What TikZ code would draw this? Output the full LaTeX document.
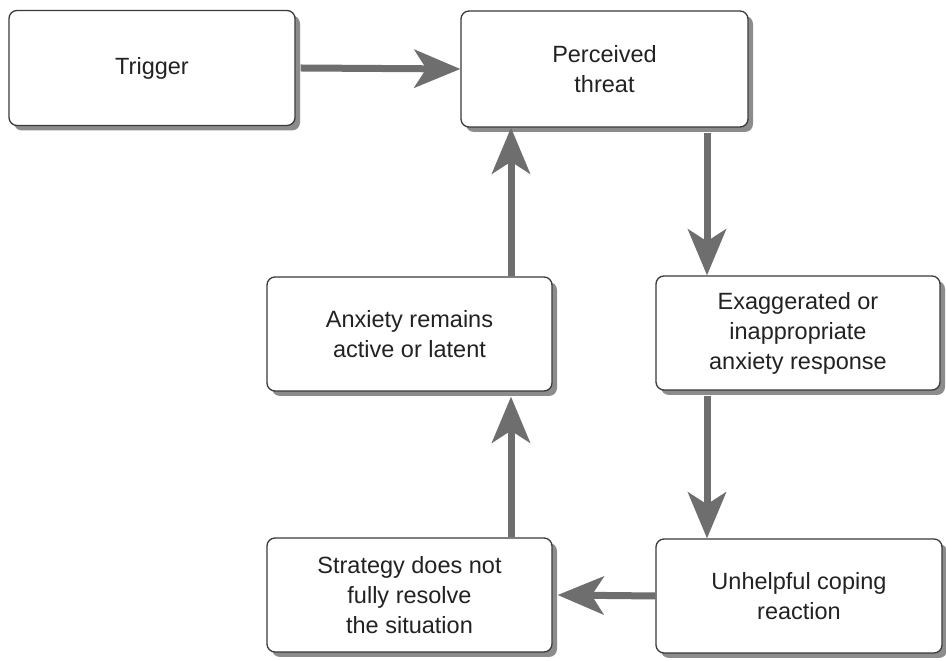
\documentclass[tikz,border=0pt]{standalone}
\usepackage{fontspec}
\setmainfont{Liberation Sans}
\usetikzlibrary{arrows.meta,shadows}
\definecolor{edgegray}{HTML}{6E6E6E}
\definecolor{framegray}{HTML}{3A3A3A}
\definecolor{shadegray}{HTML}{8C8C8C}
\definecolor{inkgray}{HTML}{222222}
\begin{document}
\begin{tikzpicture}[x=1pt,y=1pt,
  stepbox/.style={draw=framegray, line width=1.3pt, fill=white, rounded corners=8pt,
    minimum width=285pt, minimum height=114pt, align=center, text=inkgray,
    font=\fontsize{23.5}{30}\selectfont,
    drop shadow={shadow xshift=5pt, shadow yshift=-5pt, fill=shadegray, opacity=1}},
  flow/.style={draw=edgegray, line width=7pt,
    -{Stealth[length=46pt, width=38pt, inset=12pt, fill=edgegray]}}]
\useasboundingbox (0,0) rectangle (946,661);
\fill[white] (0,0) rectangle (946,661);

% boxes of the cycle
\node[stepbox, minimum width=286pt, minimum height=115pt] (trig) at (152,593) {Trigger};
\node[stepbox, minimum width=287pt, minimum height=116pt] (perc) at (604.5,592) {Perceived\\threat};
\node[stepbox, minimum width=284pt] (exag) at (798,328) {Exaggerated or\\inappropriate\\anxiety response};
\node[stepbox] (anx) at (409.5,327) {Anxiety remains\\active or latent};
\node[stepbox] (strat) at (409.5,66) {Strategy does not\\fully resolve\\the situation};
\node[stepbox, minimum width=286pt] (unh) at (799,65) {Unhelpful coping\\reaction};

% columns carrying the vertical connectors
\coordinate (rcol) at (707,0);
\coordinate (lcol) at (511,0);

% connectors
\draw[flow] (trig.east) ++(5pt,0) -- (perc.west);
\draw[flow] (perc.south -| rcol) ++(0,-5pt) -- (exag.north -| rcol);
\draw[flow] (exag.south -| rcol) ++(0,-5pt) -- (unh.north -| rcol);
\draw[flow] (unh.west) -- ([xshift=5pt]strat.east);
\draw[flow] (strat.north -| lcol) -- ([yshift=-5pt]anx.south -| lcol);
\draw[flow] (anx.north -| lcol) -- (perc.south -| lcol);
\end{tikzpicture}
\end{document}
